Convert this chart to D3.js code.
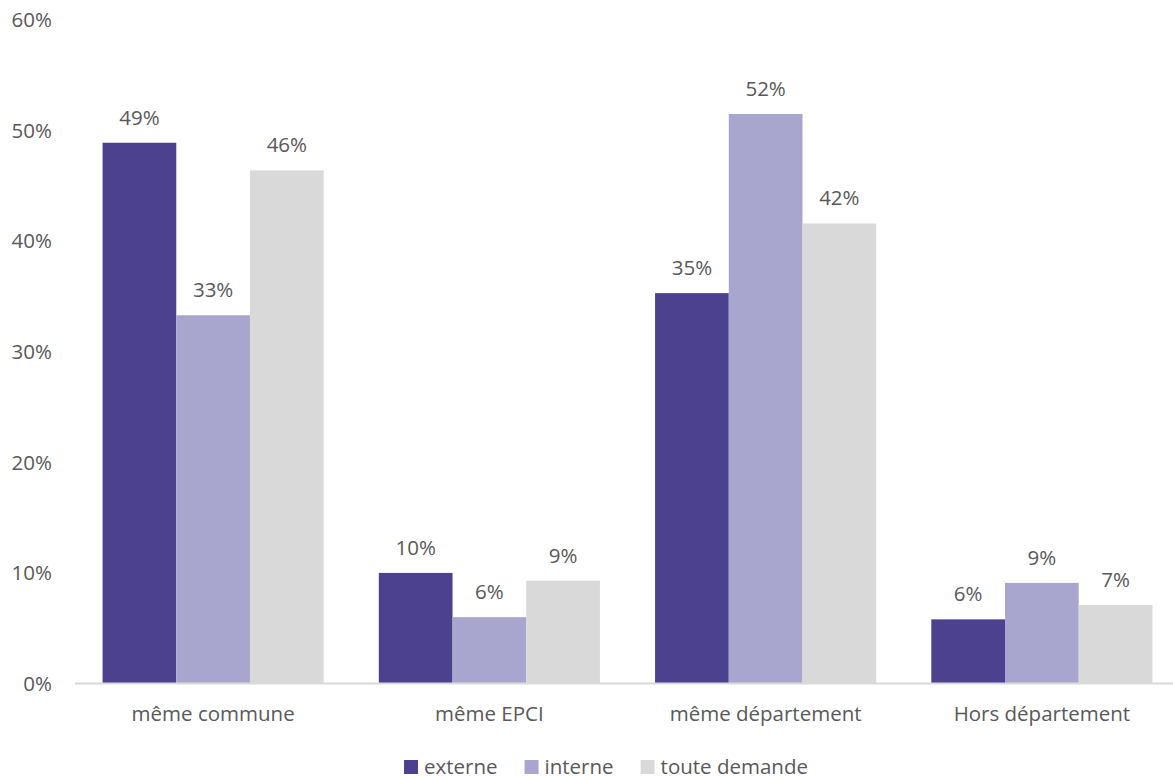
<!DOCTYPE html>
<html>
<head>
<meta charset="utf-8">
<script src="https://cdn.jsdelivr.net/npm/d3@7/dist/d3.min.js"></script>
<style>
  html, body { margin: 0; padding: 0; background: #ffffff; }
  svg text { font-family: "Open Sans", "Noto Sans", sans-serif; fill: #595959; }
</style>
</head>
<body>
<svg id="chart" width="1173" height="780"></svg>
<script>
// Categories (geographic scope) and the three request series
const categories = ["même commune", "même EPCI", "même département", "Hors département"];
const seriesNames = ["externe", "interne", "toute demande"];
const externe = [0.489, 0.100, 0.353, 0.058];
const interne = [0.333, 0.060, 0.515, 0.091];
const touteDemande = [0.464, 0.093, 0.416, 0.071];
const yTicks = [0, 0.1, 0.2, 0.3, 0.4, 0.5, 0.6];
const colors = ["#4b418f", "#a8a6ce", "#d9d9d9"];

const seriesValues = [externe, interne, touteDemande];
const rows = categories.map((c, i) => ({
  category: c,
  values: seriesNames.map((s, k) => ({ series: s, value: seriesValues[k][i], color: colors[k] }))
}));

const svg = d3.select("#chart");
const W = 1173;
const fontSize = 20.5;
const pct = d3.format(".0%");

const y = d3.scaleLinear().domain([0, 0.6]).range([683.5, 20]);
const x0 = d3.scaleBand().domain(categories).range([75, 1180]).paddingInner(0).paddingOuter(0);
const x1 = d3.scaleBand().domain(seriesNames).range([0, x0.bandwidth()]).paddingInner(0).paddingOuter(0.374);

// Y tick labels (no gridlines, no axis line)
svg.append("g").selectAll("text")
  .data(yTicks)
  .join("text")
  .attr("x", 52)
  .attr("y", d => y(d))
  .attr("dy", "0.35em")
  .attr("text-anchor", "end")
  .style("font-size", fontSize + "px")
  .text(d => pct(d));

// Bars
const groups = svg.append("g").selectAll("g")
  .data(rows)
  .join("g")
  .attr("transform", d => `translate(${x0(d.category)},0)`);

groups.selectAll("rect")
  .data(d => d.values)
  .join("rect")
  .attr("x", d => x1(d.series))
  .attr("width", x1.bandwidth())
  .attr("y", d => y(d.value))
  .attr("height", d => y(0) - y(d.value))
  .attr("fill", d => d.color);

// Value labels above bars
groups.selectAll("text.val")
  .data(d => d.values)
  .join("text")
  .attr("class", "val")
  .attr("x", d => x1(d.series) + x1.bandwidth() / 2)
  .attr("y", d => y(d.value) - 18)
  .attr("text-anchor", "middle")
  .style("font-size", fontSize + "px")
  .text(d => pct(d.value));

// Baseline
svg.append("line")
  .attr("x1", x0.range()[0])
  .attr("x2", Math.min(x0.range()[1], W))
  .attr("y1", y(0))
  .attr("y2", y(0))
  .attr("stroke", "#d9d9d9")
  .attr("stroke-width", 2);

// Category labels
svg.append("g").selectAll("text")
  .data(categories)
  .join("text")
  .attr("x", d => x0(d) + x0.bandwidth() / 2)
  .attr("y", 721)
  .attr("text-anchor", "middle")
  .style("font-size", fontSize + "px")
  .text(d => d);

// Legend, centred under the plot
const legend = svg.append("g");
const items = legend.selectAll("g")
  .data(seriesNames)
  .join("g");
items.append("rect")
  .attr("width", 14)
  .attr("height", 14)
  .attr("y", 760)
  .attr("fill", (d, i) => colors[i]);
items.append("text")
  .attr("x", 20)
  .attr("y", 773.5)
  .style("font-size", fontSize + "px")
  .text(d => d);

let cursor = 0;
const offsets = [];
items.each(function () {
  offsets.push(cursor);
  const tw = d3.select(this).select("text").node().getComputedTextLength();
  cursor += 20 + tw + 27;
});
const totalW = cursor - 27;
const startX = 606 - totalW / 2;
items.attr("transform", (d, i) => `translate(${startX + offsets[i]},0)`);
</script>
</body>
</html>
